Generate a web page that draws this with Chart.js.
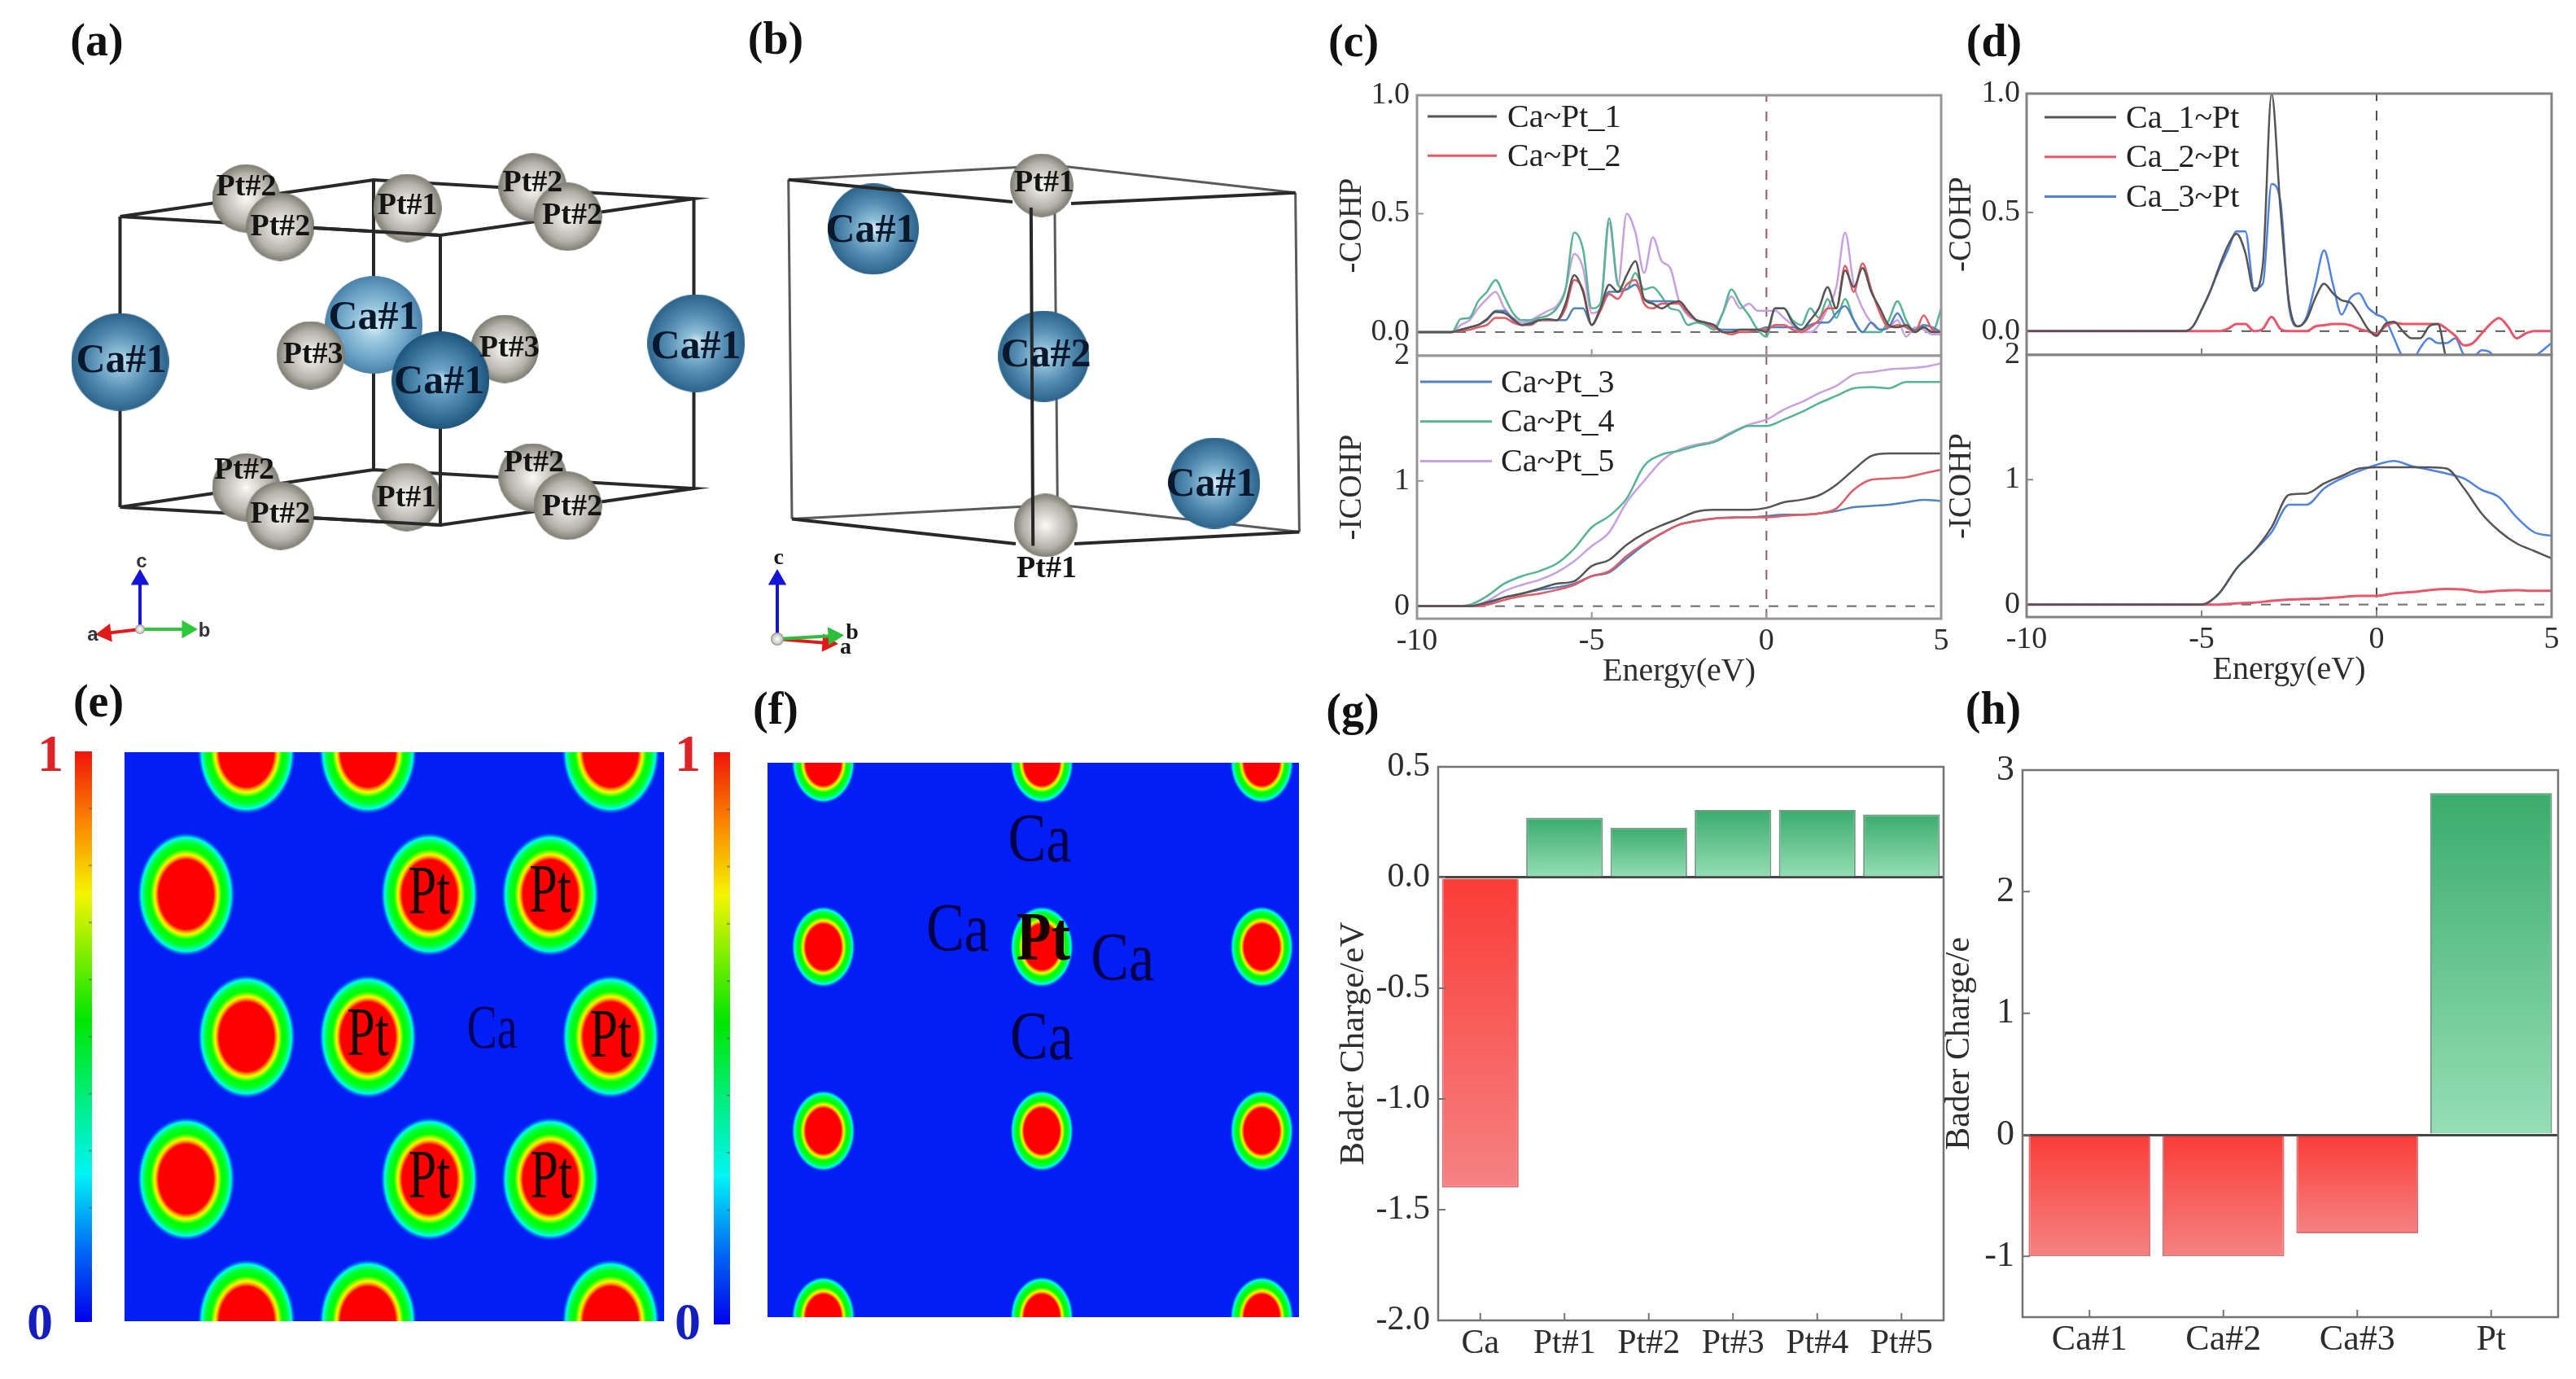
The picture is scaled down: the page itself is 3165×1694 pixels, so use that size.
<!DOCTYPE html>
<html>
<head>
<meta charset="utf-8">
<title>CaPt charge and bonding panels</title>
<script src="https://cdn.jsdelivr.net/npm/chart.js@4"></script>
<style>
  html, body { margin: 0; background: #fff; }
  #page { position: relative; width: 3165px; height: 1694px; overflow: hidden; filter: blur(0.7px); }
  #page canvas { position: absolute; }
  .mark { position: absolute; transform: translate(-50%, -50%); font-family: "Liberation Serif", serif; line-height: 1; white-space: nowrap; }
  .letter { font-size: 56px; font-weight: bold; color: #111; }
  .hi { font-size: 64px; font-weight: bold; color: rgb(220, 35, 40); }
  .lo { font-size: 64px; font-weight: bold; color: rgb(20, 30, 190); }
</style>
</head>
<body>
<div id="page"></div>
<script>
// --- data ---
const energyFine = [
  -10, -9.75, -9.5, -9.25, -9, -8.75, -8.5, -8.25, -8, -7.75, -7.5, -7.25,
  -7, -6.75, -6.5, -6.25, -6, -5.75, -5.5, -5.25, -5, -4.75, -4.5, -4.25,
  -4, -3.75, -3.5, -3.25, -3, -2.75, -2.5, -2.25, -2, -1.75, -1.5, -1.25,
  -1, -0.75, -0.5, -0.25, 0, 0.25, 0.5, 0.75, 1, 1.25, 1.5, 1.75,
  2, 2.25, 2.5, 2.75, 3, 3.25, 3.5, 3.75, 4, 4.25, 4.5, 4.75, 5];
const energyCoarse = [-10, -9.5, -9, -8.5, -8, -7.5, -7, -6.5, -6, -5.5, -5, -4.5, -4, -3.5, -3, -2.5,
  -2, -1.5, -1, -0.5, 0, 0.5, 1, 1.5, 2, 2.5, 3, 3.5, 4, 4.5, 5];

const cohpPt1 = [0, 0, 0, 0, 0, .01, .02, .03, .055, .085, .08, .055, .03, .035, .05, .055,
  .05, .12, .24, .17, .03, .1, .2, .17, .24, .3, .14, .12, .1, .12, .13, .09,
  .05, .04, .03, 0, 0, .01, .01, .01, 0, .1, .1, .04, .01, .05, .1, .19,
  .1, .26, .19, .27, .17, .1, .03, .02, .03, 0, .02, 0, 0];
const cohpPt2 = [0, 0, 0, 0, 0, .005, .01, .02, .03, .06, .06, .04, .03, .03, .05, .05,
  .05, .1, .22, .18, .03, .09, .16, .14, .2, .22, .12, .1, .12, .12, .12, .08,
  .05, .04, .02, 0, -.01, 0, 0, .01, .01, .03, .03, .01, 0, .02, .05, .1,
  .1, .28, .17, .29, .18, .08, .02, .03, .02, 0, .07, .01, 0];
const cohpPt3 = [0, 0, 0, 0, 0, .01, .02, .03, .05, .09, .09, .05, .03, .04, .05, .05,
  .05, .05, .1, .1, .03, .1, .17, .17, .18, .2, .14, .13, .13, .13, .12, .08,
  .05, .04, .02, .01, .01, .01, .01, .01, .02, .02, .02, .02, .01, .03, .04, .04,
  .08, .11, .05, 0, .04, .01, .02, .08, .02, .01, .03, .02, 0];
const cohpPt4 = [0, 0, 0, 0, 0, .055, .06, .13, .17, .22, .15, .08, .05, .05, .06, .07,
  .1, .18, .42, .35, .1, .12, .48, .2, .18, .25, .18, .19, .15, .1, .09, .03,
  .04, .03, .01, .08, .18, .12, .07, .01, -.02, .1, .1, .05, .03, .1, .06, .14,
  .06, .14, .05, 0, 0, 0, .05, .13, .05, 0, .02, 0, .1];
const cohpPt5 = [0, 0, 0, 0, 0, .03, .05, .1, .14, .17, .1, .06, .04, .05, .07, .09,
  .11, .18, .33, .27, .08, .1, .46, .2, .5, .42, .25, .4, .3, .27, .13, .07,
  .05, .04, .02, .08, .15, .1, .12, .09, .09, .09, .06, .03, 0, 0, .03, .1,
  .19, .42, .2, .1, .04, .01, .02, .05, -.02, .02, .01, -.01, -.01];

const icohpPt1 = [0, 0, 0, 0, .03, .07, .1, .14, .18, .2, .32, .37, .49, .58, .645, .7, .755, .77, .77, .77, .785, .83, .85, .885, .97, 1.09, 1.2, 1.22, 1.22, 1.22, 1.22];
const icohpPt2 = [0, 0, 0, 0, .01, .05, .08, .1, .13, .17, .24, .28, .4, .5, .58, .65, .68, .7, .705, .71, .71, .72, .73, .74, .78, .93, 1.01, 1.02, 1.03, 1.06, 1.09];
const icohpPt3 = [0, 0, 0, 0, .02, .07, .1, .13, .15, .18, .24, .27, .38, .49, .58, .65, .68, .7, .71, .71, .72, .73, .73, .74, .76, .79, .8, .81, .83, .85, .84];
const icohpPt4 = [0, 0, 0, .01, .08, .18, .24, .28, .34, .46, .63, .72, .86, 1.12, 1.21, 1.24, 1.28, 1.31, 1.38, 1.44, 1.44, 1.49, 1.55, 1.62, 1.68, 1.74, 1.75, 1.74, 1.79, 1.79, 1.79];
const icohpPt5 = [0, 0, 0, 0, .04, .12, .17, .21, .27, .36, .48, .59, .83, 1, 1.16, 1.25, 1.29, 1.32, 1.39, 1.45, 1.49, 1.57, 1.63, 1.7, 1.76, 1.85, 1.87, 1.89, 1.9, 1.91, 1.94];

const cohpCa1 = [0, 0, 0, 0, 0, 0, 0, 0, 0, 0, 0, 0, 0, 0, 0, 0,
  0, 0, 0, .02, .09, .17, .27, .36, .41, .33, .17, .28, 1, .52, .12, .02,
  .05, .14, .2, .16, .13, .12, .07, .01, -.02, .03, .04, 0, -.03, -.03, .02, .03,
  -.12, -.16, -.2, -.2, -.2, -.2, -.2, -.2, -.2, -.2, -.2, -.2, -.2];
const cohpCa2 = [0, 0, 0, 0, 0, 0, 0, 0, 0, 0, 0, 0, 0, 0, 0, 0,
  0, 0, 0, 0, 0, 0, 0, .01, .03, .03, 0, .01, .06, .01, 0, 0,
  0, .02, .025, .03, .03, .025, .01, 0, -.01, .02, .035, .03, .03, .03, .03, .03,
  .01, -.02, -.06, -.05, -.01, .03, .055, .02, -.03, -.01, 0, 0, 0];
const cohpCa3 = [0, 0, 0, 0, 0, 0, 0, 0, 0, 0, 0, 0, 0, 0, 0, 0,
  0, 0, 0, .02, .09, .17, .26, .34, .42, .42, .18, .2, .62, .55, .1, .02,
  .06, .2, .34, .2, .07, .14, .16, .1, .07, .05, -.03, -.11, -.13, -.07, -.03, -.05,
  -.05, -.03, -.1, -.11, -.08, -.09, -.14, -.16, -.16, -.15, -.11, -.08, -.05];

const icohpCa1 = [0, 0, 0, 0, 0, 0, 0, 0, 0, 0, 0, .09, .29, .43, .62, .88, .89, .97, 1.03, 1.09, 1.1, 1.1, 1.1, 1.1, 1.09, .93, .73, .59, .49, .43, .37];
const icohpCa2 = [0, 0, 0, 0, 0, 0, 0, 0, 0, 0, 0, 0, .01, .015, .03, .04, .045, .05, .06, .07, .07, .09, .1, .115, .125, .12, .1, .11, .115, .11, .11];
const icohpCa3 = [0, 0, 0, 0, 0, 0, 0, 0, 0, 0, 0, .09, .29, .43, .58, .8, .8, .93, 1.01, 1.07, 1.12, 1.15, 1.11, 1.08, 1.05, 1.01, .92, .86, .7, .58, .55];

const bondNamesC = ['Ca~Pt_1', 'Ca~Pt_2', 'Ca~Pt_3', 'Ca~Pt_4', 'Ca~Pt_5'];
const bondNamesD = ['Ca_1~Pt', 'Ca_2~Pt', 'Ca_3~Pt'];

const energyTicks = [-10, -5, 0, 5];
const cohpTicks = [0, 0.5, 1];
const icohpTicks = [0, 1, 2];

const baderCatsG = ['Ca', 'Pt#1', 'Pt#2', 'Pt#3', 'Pt#4', 'Pt#5'];
const baderValsG = [-1.4, 0.27, 0.225, 0.305, 0.305, 0.285];
const baderTicksG = [-2, -1.5, -1, -0.5, 0, 0.5];
const baderCatsH = ['Ca#1', 'Ca#2', 'Ca#3', 'Pt'];
const baderValsH = [-1, -1, -0.81, 2.81];
const baderTicksH = [-1, 0, 1, 2, 3];

// ELF maxima, as fractions of the map
const elfEx = [.226, .451, .901, .114, .565, .789, .226, .451, .901, .114, .565, .789, .226, .451, .901];
const elfEy = [0, 0, 0, .25, .25, .25, .5, .5, .5, .75, .75, .75, 1, 1, 1];
const elfEtext = ['Pt', 'Pt', 'Pt', 'Pt', 'Pt', 'Pt', 'Ca'];
const elfEtextX = [.565, .789, .451, .901, .565, .791, .681];
const elfEtextY = [.252, .249, .501, .503, .751, .751, .491];

const elfFx = [.105, .516, .93, .105, .516, .93, .105, .516, .93, .105, .516, .93];
const elfFy = [0, 0, 0, .332, .332, .332, .664, .664, .664, 1, 1, 1];
const elfFtext = ['Ca', 'Ca', 'Ca', 'Ca', 'Pt'];
const elfFtextX = [.512, .358, .668, .516, .519];
const elfFtextY = [.146, .307, .36, .502, .324];

const colorbarTicks = [0, .1, .2, .3, .4, .5, .6, .7, .8, .9, 1];

// unit cell (a), axis units follow the picture; back to front
const atomAx = [302.5, 654.4, 500.6, 344.4, 697.5, 302.5, 654.4, 499.4, 344.4, 697.5, 147.5, 855.3, 459.2, 381.7, 620, 541.3];
const atomAy = [243.7, 230.3, 255.5, 278.5, 266.2, 598.8, 586.5, 610.6, 633.6, 621.3, 444.5, 421.5, 399, 436.5, 428.5, 467];
const atomAname = ['Pt#2', 'Pt#2', 'Pt#1', 'Pt#2', 'Pt#2', 'Pt#2', 'Pt#2', 'Pt#1', 'Pt#2', 'Pt#2', 'Ca#1', 'Ca#1', 'Ca#1', 'Pt#3', 'Pt#3', 'Ca#1'];
const atomAtextX = [302.5, 654.4, 500.6, 344.4, 703, 300, 656, 499.4, 344.4, 703, 149, 855, 459, 384.6, 625.7, 539.6];
const atomAtextY = [230.3, 225, 252.8, 279.6, 265, 578.5, 568.8, 611.7, 632, 623, 444.5, 427, 391, 436.5, 428.5, 470];
const edgeAx = [147.5, 459, 852.5, 541, 147.5, null, 147.5, 459, 852.5, 541, 147.5, null, 147.5, 147.5, null, 459, 459, null, 852.5, 852.5, null, 541, 541];
const edgeAy = [266, 221, 244, 289, 266, null, 623, 577, 600, 645, 623, null, 266, 623, null, 221, 577, null, 244, 600, null, 289, 645];
const edgeAfrontX = [385, 541, null, 385, 541, 541];
const edgeAfrontY = [279.9, 289, null, 636.3, 645, 577];

// unit cell (b)
const atomBx = [1279.9, 1072.9, 1284.7, 1282.3, 1492.2];
const atomBy = [227.6, 281.2, 645.4, 437.6, 593.5];
const atomBname = ['Pt#1', 'Ca#1', 'Pt#1', 'Ca#2', 'Ca#1'];
const atomBtextX = [1283, 1070, 1286, 1285, 1488];
const atomBtextY = [225, 284, 699, 437, 596];
const edgeBx = [968.7, 1295.4, 1591.6, null, 973, 1299.3, 1596.4, null, 968.7, 973, null, 1591.6, 1596.4, null, 1295.4, 1299.3];
const edgeBy = [220.7, 203, 236.7, null, 637.4, 620, 653.5, null, 220.7, 637.4, null, 236.7, 653.5, null, 203, 620];
const edgeBfrontX = [968.7, 1244, null, 1316, 1591.6, null, 1266.8, 1269.2, null, 973, 1248, null, 1320, 1596.4];
const edgeBfrontY = [220.7, 248, null, 250, 236.7, null, 255, 670.6, null, 637.4, 668, null, 668, 653.5];

// --- drawing helpers ---
const page = document.getElementById('page');
const SERIF = '"Liberation Serif", "Times New Roman", serif';
const INK = 'rgb(45,45,45)';

Chart.defaults.animation = false;
Chart.defaults.devicePixelRatio = 1;
Chart.defaults.responsive = false;
Chart.defaults.plugins.legend.display = false;
Chart.defaults.plugins.tooltip.enabled = false;

function addCanvas(left, top, w, h) {
  const c = document.createElement('canvas');
  c.width = w; c.height = h;
  c.style.left = left + 'px'; c.style.top = top + 'px';
  page.appendChild(c);
  return c;
}

function addMark(text, cls, x, y) {
  const d = document.createElement('div');
  d.className = 'mark ' + cls;
  d.textContent = text;
  d.style.left = x + 'px'; d.style.top = y + 'px';
  page.appendChild(d);
}

// plot frame with inward tick marks
const framePlugin = {
  id: 'frame',
  afterDatasetsDraw(chart, args, o) {
    if (!o.color) return;
    const { ctx, chartArea: a, scales } = chart;
    ctx.save();
    ctx.strokeStyle = o.color;
    ctx.lineWidth = o.width;
    ctx.strokeRect(a.left, a.top, a.right - a.left, a.bottom - a.top);
    ctx.lineWidth = 2;
    ctx.beginPath();
    (o.xTicks || []).forEach(v => {
      const x = scales.x.getPixelForValue(v);
      ctx.moveTo(x, a.bottom); ctx.lineTo(x, a.bottom - o.tick);
    });
    (o.yTicks || []).forEach(v => {
      const y = scales.y.getPixelForValue(v);
      ctx.moveTo(a.left, y); ctx.lineTo(a.left + o.tick, y);
    });
    ctx.stroke();
    ctx.restore();
  }
};

// line + name rows placed inside the plot
const legendPlugin = {
  id: 'lineLegend',
  afterDatasetsDraw(chart, args, o) {
    if (!o.series) return;
    const { ctx, chartArea: a } = chart;
    ctx.save();
    ctx.font = '40px ' + SERIF;
    ctx.textBaseline = 'middle';
    o.series.forEach((idx, row) => {
      const ds = chart.data.datasets[idx];
      const y = a.top + o.firstY + row * o.step;
      ctx.strokeStyle = ds.borderColor;
      ctx.lineWidth = 3;
      ctx.beginPath();
      ctx.moveTo(a.left + o.lineFrom, y); ctx.lineTo(a.left + o.lineTo, y);
      ctx.stroke();
      ctx.fillStyle = '#222';
      ctx.fillText(ds.label, a.left + o.textX, y + 2);
    });
    ctx.restore();
  }
};

// text tied to data coordinates; sy stretches it vertically like the source image
const textPlugin = {
  id: 'dataText',
  afterDatasetsDraw(chart, args, o) {
    const { ctx, scales } = chart;
    (o.items || []).forEach(t => {
      ctx.save();
      ctx.translate(scales.x.getPixelForValue(t.x), scales.y.getPixelForValue(t.y));
      ctx.scale(1, t.sy || 1);
      ctx.font = t.font;
      ctx.fillStyle = t.color;
      ctx.textAlign = 'center';
      ctx.textBaseline = 'middle';
      ctx.fillText(t.text, 0, 0);
      ctx.restore();
    });
  }
};

const areaFillPlugin = {
  id: 'areaFill',
  beforeDatasetsDraw(chart, args, o) {
    if (!o.color) return;
    const a = chart.chartArea;
    chart.ctx.fillStyle = o.color;
    chart.ctx.fillRect(a.left, a.top, a.right - a.left, a.bottom - a.top);
  }
};

const allPlugins = [areaFillPlugin, framePlugin, legendPlugin, textPlugin];

function pairs(xs, ys) {
  return xs.map((x, i) => ({ x: x, y: ys[i] }));
}

function curve(label, color, xs, ys, width) {
  return {
    label: label, data: pairs(xs, ys), showLine: true, borderColor: color, backgroundColor: color,
    borderWidth: width || 2.5, pointRadius: 0, cubicInterpolationMode: 'monotone'
  };
}

function dashed(xs, ys, color) {
  return { label: '', data: pairs(xs, ys), showLine: true, borderColor: color, borderWidth: 2, borderDash: [12, 12], pointRadius: 0, order: 9 };
}

const PAD = 34;

// a chart whose plot area lands exactly on box
function placeChart(box, margin, cfg) {
  const c = addCanvas(box.l - margin.left, box.t - PAD, box.r - box.l + margin.left + PAD, box.b - box.t + PAD + margin.bottom);
  cfg.options.layout = { autoPadding: false, padding: { left: 0, top: PAD, right: PAD, bottom: 0 } };
  const noPad = s => { s.paddingLeft = s.paddingRight = s.paddingTop = s.paddingBottom = 0; };
  cfg.options.scales.x.afterFit = s => { s.height = margin.bottom; noPad(s); };
  cfg.options.scales.y.afterFit = s => { s.width = margin.left; noPad(s); };
  cfg.plugins = allPlugins;
  return new Chart(c, cfg);
}

function noGrid() {
  return { display: false, drawTicks: false };
}

function tickFont(size) {
  return { family: SERIF, size: size };
}

function cohpPanel(box, frameColor, xTitle, yMax, yTicks, yName, fmt, datasets, legend, leftMargin, bottomMargin, yPadding) {
  const xScale = {
    type: 'linear', min: -10, max: 5, grid: noGrid(),
    afterBuildTicks: s => { s.ticks = energyTicks.map(v => ({ value: v })); },
    ticks: { display: xTitle, autoSkip: false, maxRotation: 0, padding: 5, font: tickFont(38), color: INK, callback: v => String(v) },
    title: { display: xTitle, text: 'Energy(eV)', font: tickFont(40), color: INK, padding: 0 }
  };
  return placeChart(box, { left: leftMargin, bottom: bottomMargin }, {
    type: 'scatter',
    data: { datasets: datasets },
    options: {
      scales: {
        x: xScale,
        y: {
          min: -0.1, max: yMax, grid: noGrid(),
          afterBuildTicks: s => { s.ticks = yTicks.map(v => ({ value: v })); },
          ticks: { autoSkip: false, padding: yPadding, font: tickFont(38), color: INK, callback: fmt },
          title: { display: true, text: yName, font: tickFont(39), color: INK, padding: 0 }
        }
      },
      plugins: {
        frame: { color: frameColor, width: 3, tick: 8, xTicks: energyTicks.slice(1, 3), yTicks: yTicks.slice(1, 2) },
        lineLegend: legend
      }
    }
  });
}

const colC = ['rgb(85,85,85)', 'rgb(228,90,100)', 'rgb(80,130,190)', 'rgb(85,180,145)', 'rgb(200,160,225)'];
const colD = ['rgb(85,85,85)', 'rgb(235,85,105)', 'rgb(80,130,225)'];

// panel (c)
const cohpC = [cohpPt1, cohpPt2, cohpPt3, cohpPt4, cohpPt5];
const icohpC = [icohpPt1, icohpPt2, icohpPt3, icohpPt4, icohpPt5];
const fromPt = (arr, xs) => arr.map((ys, i) => curve(bondNamesC[i], colC[i], xs, ys));
cohpPanel({ l: 1741, t: 117, r: 2385, b: 437 }, 'rgb(150,150,150)', false, 1, cohpTicks, '-COHP', v => v.toFixed(1),
  fromPt(cohpC, energyFine).concat([dashed([-10, 5], [0, 0], 'rgb(110,100,100)'), dashed([0, 0], [-0.1, 1], 'rgb(150,90,100)')]),
  { series: [0, 1], lineFrom: 13, lineTo: 98, textX: 111, firstY: 26, step: 48.3 }, 103, 0, 9);
cohpPanel({ l: 1741, t: 437, r: 2385, b: 760 }, 'rgb(150,150,150)', true, 2, icohpTicks, '-ICOHP', v => String(v),
  fromPt(icohpC, energyCoarse).concat([dashed([-10, 5], [0, 0], 'rgb(110,100,100)'), dashed([0, 0], [-0.1, 2], 'rgb(150,90,100)')]),
  { series: [2, 3, 4], lineFrom: 4, lineTo: 92, textX: 103, firstY: 32, step: 48.8 }, 103, 89, 9);

// panel (d)
const cohpD = [cohpCa1, cohpCa2, cohpCa3];
const icohpD = [icohpCa1, icohpCa2, icohpCa3];
const fromCa = (arr, xs) => arr.map((ys, i) => curve(bondNamesD[i], colD[i], xs, ys, i === 1 ? 3 : 2.5));
cohpPanel({ l: 2490, t: 115, r: 3135, b: 436 }, 'rgb(130,130,130)', false, 1, cohpTicks, '-COHP', v => v.toFixed(1),
  fromCa(cohpD, energyFine).concat([dashed([-10, 5], [0, 0], 'rgb(90,90,90)'), dashed([0, 0], [-0.1, 1], 'rgb(80,80,80)')]),
  { series: [0, 1, 2], lineFrom: 22, lineTo: 110, textX: 122, firstY: 29, step: 48.7 }, 103, 0, 8);
cohpPanel({ l: 2490, t: 436, r: 3135, b: 758 }, 'rgb(130,130,130)', true, 2, icohpTicks, '-ICOHP', v => String(v),
  fromCa(icohpD, energyCoarse).concat([dashed([-10, 5], [0, 0], 'rgb(110,110,110)'), dashed([0, 0], [-0.1, 2], 'rgb(80,80,80)')]),
  {}, 103, 89, 8);

// panels (g), (h)
function barFill(ctx) {
  const y = ctx.chart.scales.y;
  const v = ctx.raw;
  if (!y || v === undefined) return 'rgb(100,190,140)';
  const y0 = y.getPixelForValue(0);
  const y1 = y.getPixelForValue(v);
  if (!isFinite(y0) || !isFinite(y1)) return 'rgb(100,190,140)';
  const g = ctx.chart.ctx.createLinearGradient(0, y0, 0, y1);
  if (v < 0) {
    g.addColorStop(0, 'rgb(250,60,55)');
    g.addColorStop(1, 'rgb(245,130,130)');
  } else {
    g.addColorStop(0, 'rgb(150,222,182)');
    g.addColorStop(1, 'rgb(58,172,108)');
  }
  return g;
}

function baderPanel(box, cats, vals, yMin, yMax, yTicks, yName, fmt, margin, sizes) {
  return placeChart(box, margin, {
    type: 'bar',
    data: {
      labels: cats,
      datasets: [{
        data: vals, backgroundColor: barFill, borderWidth: 2,
        borderColor: ctx => ctx.raw < 0 ? 'rgb(222,110,115)' : 'rgb(110,155,130)',
        categoryPercentage: 1, barPercentage: 0.91
      }]
    },
    options: {
      scales: {
        x: { grid: noGrid(), ticks: { autoSkip: false, maxRotation: 0, padding: sizes.xPad, font: tickFont(sizes.tick), color: INK } },
        y: {
          min: yMin, max: yMax,
          grid: { drawTicks: false, lineWidth: 3, color: ctx => ctx.tick && ctx.tick.value === 0 ? 'rgb(70,70,70)' : 'rgba(0,0,0,0)' },
          afterBuildTicks: s => { s.ticks = yTicks.map(v => ({ value: v })); },
          ticks: { autoSkip: false, padding: 10, font: tickFont(sizes.tick), color: INK, callback: fmt },
          title: { display: true, text: yName, font: tickFont(sizes.title), color: INK, padding: 0 }
        }
      },
      plugins: {
        frame: { color: 'rgb(115,115,115)', width: 2.5, tick: 9, xTicks: cats.map((c, i) => i), yTicks: yTicks }
      }
    }
  });
}

baderPanel({ l: 1767, t: 942, r: 2388, b: 1622 }, baderCatsG, baderValsG, -2, 0.5, baderTicksG, 'Bader Charge/eV',
  v => v.toFixed(1), { left: 129, bottom: 60 }, { tick: 42, title: 43, xPad: 4 });
baderPanel({ l: 2485, t: 946, r: 3143, b: 1618 }, baderCatsH, baderValsH, -1.5, 3, baderTicksH, 'Bader Charge/e',
  v => String(v), { left: 102, bottom: 60 }, { tick: 44, title: 42, xPad: 2 });

// panels (e), (f): ELF maps
function elfBlob(rx, ry) {
  const c = document.createElement('canvas');
  c.width = Math.ceil(2 * rx); c.height = Math.ceil(2 * ry);
  const g = c.getContext('2d');
  g.translate(rx, ry);
  g.scale(1, ry / rx);
  const r = g.createRadialGradient(0, 0, 0, 0, 0, rx);
  r.addColorStop(0, 'rgb(255,0,0)');
  r.addColorStop(0.56, 'rgb(255,0,0)');
  r.addColorStop(0.61, 'rgb(255,170,0)');
  r.addColorStop(0.65, 'rgb(240,255,0)');
  r.addColorStop(0.73, 'rgb(0,255,0)');
  r.addColorStop(0.82, 'rgb(0,255,30)');
  r.addColorStop(0.92, 'rgb(0,255,225)');
  r.addColorStop(1, 'rgba(0,90,250,0)');
  g.fillStyle = r;
  g.fillRect(-rx, -rx, 2 * rx, 2 * rx);
  return c;
}

function hiddenScales(x0, x1, y0, y1) {
  return {
    x: { type: 'linear', display: false, min: x0, max: x1 },
    y: { type: 'linear', display: false, min: y0, max: y1, reverse: true }
  };
}

const fullBleed = { autoPadding: false, padding: 0 };

function elfPanel(box, xs, ys, blob, items) {
  new Chart(addCanvas(box.l, box.t, box.r - box.l, box.b - box.t), {
    type: 'scatter',
    data: { datasets: [{ data: pairs(xs, ys), pointStyle: blob, pointRadius: 5, borderWidth: 0 }] },
    options: {
      layout: fullBleed,
      scales: hiddenScales(0, 1, 0, 1),
      plugins: { areaFill: { color: 'rgb(3,30,245)' }, dataText: { items: items } }
    },
    plugins: allPlugins
  });
}

const elfEitems = elfEtext.map((t, i) => ({
  text: t, x: elfEtextX[i], y: elfEtextY[i], sy: 1.35,
  font: (t === 'Pt' ? '62px ' : '56px ') + SERIF,
  color: t === 'Ca' ? 'rgb(0,0,90)' : 'rgb(25,0,0)'
}));
const elfFitems = elfFtext.map((t, i) => ({
  text: t, x: elfFtextX[i], y: elfFtextY[i], sy: 1.2,
  font: (t === 'Pt' ? 'bold ' : '') + '70px ' + SERIF,
  color: t === 'Ca' ? 'rgb(0,0,70)' : 'rgb(25,0,0)'
}));
elfPanel({ l: 153, t: 924, r: 816, b: 1623 }, elfEx, elfEy, elfBlob(60, 76), elfEitems);
elfPanel({ l: 943, t: 937, r: 1596, b: 1618 }, elfFx, elfFy, elfBlob(39, 50), elfFitems);

// colour bars
function colorbarFill(ctx) {
  const y = ctx.chart.scales.y;
  if (!y) return 'blue';
  const y0 = y.getPixelForValue(0);
  const y1 = y.getPixelForValue(1);
  if (!isFinite(y0) || !isFinite(y1)) return 'blue';
  const g = ctx.chart.ctx.createLinearGradient(0, y0, 0, y1);
  g.addColorStop(0, 'rgb(0,0,235)');
  g.addColorStop(0.12, 'rgb(0,100,245)');
  g.addColorStop(0.26, 'rgb(0,245,245)');
  g.addColorStop(0.53, 'rgb(0,230,0)');
  g.addColorStop(0.75, 'rgb(245,245,0)');
  g.addColorStop(0.88, 'rgb(250,130,0)');
  g.addColorStop(1, 'rgb(240,20,10)');
  return g;
}

function colorbar(box) {
  new Chart(addCanvas(box.l, box.t, box.r - box.l, box.b - box.t), {
    type: 'bar',
    data: {
      labels: [''],
      datasets: [{ data: [[0, 1]], categoryPercentage: 1, barPercentage: 1, backgroundColor: colorbarFill }]
    },
    options: {
      layout: fullBleed,
      scales: { x: { display: false }, y: { display: false, min: 0, max: 1 } }
    },
    plugins: [{
      id: 'colorbarTicks',
      afterDatasetsDraw(chart) {
        const { ctx, chartArea: a, scales } = chart;
        ctx.fillStyle = 'rgba(90,90,90,0.55)';
        colorbarTicks.forEach(v => ctx.fillRect(a.right - 4, scales.y.getPixelForValue(v) - 1, 4, 2));
      }
    }]
  });
}
colorbar({ l: 92, t: 923, r: 113, b: 1624 });
colorbar({ l: 877, t: 924, r: 897, b: 1627 });

// panels (a), (b): unit cells
function sphere(r, stops) {
  const c = document.createElement('canvas');
  c.width = c.height = 2 * r;
  const g = c.getContext('2d');
  const grad = g.createRadialGradient(r, r, 0, r, r, r);
  stops.forEach(s => grad.addColorStop(s[0], s[1]));
  g.fillStyle = grad;
  g.beginPath();
  g.arc(r, r, r, 0, Math.PI * 2);
  g.fill();
  return c;
}
const caStops = [[0, 'rgb(225,242,250)'], [0.22, 'rgb(140,190,215)'], [0.6, 'rgb(85,140,178)'], [1, 'rgb(45,100,140)']];
const caBackStops = [[0, 'rgb(225,242,250)'], [0.3, 'rgb(160,205,225)'], [0.7, 'rgb(110,165,200)'], [1, 'rgb(75,130,170)']];
const caFrontStops = [[0, 'rgb(200,230,245)'], [0.22, 'rgb(110,165,200)'], [0.62, 'rgb(65,125,165)'], [1, 'rgb(30,85,125)']];
const ptStops = [[0, 'rgb(250,250,246)'], [0.3, 'rgb(222,220,214)'], [0.72, 'rgb(180,178,170)'], [1, 'rgb(125,125,116)']];
const ballStops = [[0, 'rgb(255,255,255)'], [0.7, 'rgb(205,205,200)'], [1, 'rgb(140,140,135)']];

function edges(xs, ys, order, width, color) {
  return { data: pairs(xs, ys), showLine: true, borderColor: color || 'rgb(40,40,40)', borderWidth: width || 4, pointRadius: 0, spanGaps: false, order: order };
}

function triadArrow(x0, y0, x1, y1, color) {
  const angle = Math.atan2(x1 - x0, y0 - y1) * 180 / Math.PI;
  return {
    data: [{ x: x0, y: y0 }, { x: x1, y: y1 }], showLine: true, borderColor: color, borderWidth: 4,
    pointRadius: [0, 9], pointStyle: 'triangle', pointRotation: [0, angle],
    pointBackgroundColor: color, pointBorderColor: color, order: 0
  };
}

function cellPanel(box, datasets, items) {
  new Chart(addCanvas(box.l, box.t, box.r - box.l, box.b - box.t), {
    type: 'scatter',
    data: { datasets: datasets },
    options: {
      layout: fullBleed,
      scales: hiddenScales(box.l, box.r, box.t, box.b),
      plugins: { dataText: { items: items } }
    },
    plugins: allPlugins
  });
}

function atomItems(names, xs, ys, caSize, ptSize) {
  return names.map((n, i) => ({
    text: n, x: xs[i], y: ys[i],
    font: 'bold ' + (n.startsWith('Ca') ? caSize : ptSize) + 'px ' + SERIF,
    color: n.startsWith('Ca') ? 'rgb(8,25,45)' : 'rgb(20,20,20)'
  }));
}

const ptA = sphere(42, ptStops);
const caA = sphere(60, caStops);
const caAback = sphere(60, caBackStops);
const caAfront = sphere(60, caFrontStops);
const stylesA = atomAname.map((n, i) => i === 12 ? caAback : i === 15 ? caAfront : n.startsWith('Pt') ? ptA : caA);
const triadFontA = 'bold 24px "Liberation Sans", sans-serif';
cellPanel({ l: 0, t: 0, r: 930, b: 840 }, [
  edges(edgeAfrontX, edgeAfrontY, 1),
  { data: pairs(atomAx, atomAy), pointStyle: stylesA, pointRadius: 5, borderWidth: 0, order: 2 },
  edges(edgeAx, edgeAy, 3),
  triadArrow(172, 773, 172, 712, 'rgb(20,20,215)'),
  triadArrow(172, 773, 130, 778, 'rgb(225,25,25)'),
  triadArrow(172, 773, 230, 773, 'rgb(45,200,60)'),
  { data: [{ x: 172, y: 773 }], pointStyle: sphere(6, ballStops), pointRadius: 5, borderWidth: 0, order: -1 }
], atomItems(atomAname, atomAtextX, atomAtextY, 50, 38).concat([
  { text: 'c', x: 174, y: 690, font: triadFontA, color: 'rgb(50,50,60)' },
  { text: 'a', x: 114, y: 780, font: triadFontA, color: 'rgb(50,50,60)' },
  { text: 'b', x: 251, y: 775, font: triadFontA, color: 'rgb(50,50,60)' }
]));

const ptB = sphere(39, ptStops);
const caB = sphere(56, caStops);
const stylesB = atomBname.map(n => n.startsWith('Pt') ? ptB : caB);
const triadFontB = 'bold 28px ' + SERIF;
cellPanel({ l: 900, t: 0, r: 1640, b: 840 }, [
  edges(edgeBfrontX, edgeBfrontY, 1),
  { data: pairs(atomBx, atomBy), pointStyle: stylesB, pointRadius: 5, borderWidth: 0, order: 2 },
  edges(edgeBx, edgeBy, 3, 3, 'rgb(90,90,90)'),
  triadArrow(955, 785, 955, 712, 'rgb(20,20,215)'),
  triadArrow(955, 785, 1024, 781, 'rgb(45,190,60)'),
  triadArrow(955, 785, 1017, 790, 'rgb(225,25,25)'),
  { data: [{ x: 955, y: 785 }], pointStyle: sphere(8, ballStops), pointRadius: 5, borderWidth: 0, order: -1 }
], atomItems(atomBname, atomBtextX, atomBtextY, 50, 38).concat([
  { text: 'c', x: 956.6, y: 686, font: triadFontB, color: 'rgb(25,25,25)' },
  { text: 'b', x: 1047, y: 778, font: triadFontB, color: 'rgb(25,25,25)' },
  { text: 'a', x: 1039, y: 796, font: triadFontB, color: 'rgb(25,25,25)' }
]));

// panel letters and colour bar ends
[['(a)', 119, 49], ['(b)', 953, 47], ['(c)', 1663, 50], ['(d)', 2450, 50],
 ['(e)', 121, 861], ['(f)', 953, 870], ['(g)', 1662, 872], ['(h)', 2449, 870]].forEach(l => addMark(l[0], 'letter', l[1], l[2]));
addMark('1', 'hi', 62, 926);
addMark('0', 'lo', 49, 1624);
addMark('1', 'hi', 845, 926);
addMark('0', 'lo', 845, 1624);
</script>
</body>
</html>
